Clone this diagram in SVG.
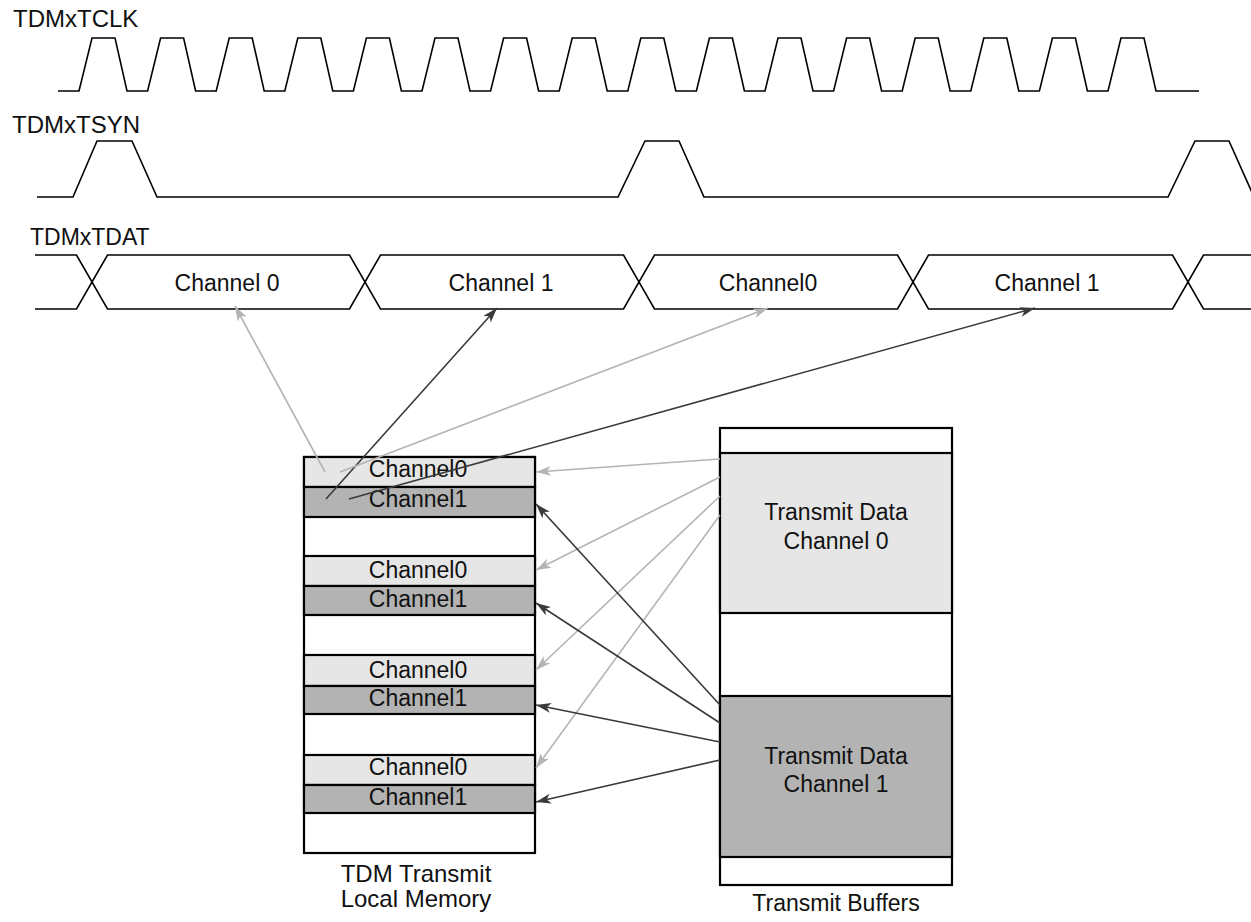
<svg xmlns="http://www.w3.org/2000/svg" width="1251" height="922" viewBox="0 0 1251 922">
<style>
text{font-family:"Liberation Sans",Arial,sans-serif;font-size:23px;fill:#111}
.mid{text-anchor:middle}
.big{font-size:24px}
.wave{fill:none;stroke:#000;stroke-width:1.6;stroke-linejoin:miter}
.box{stroke:#000;stroke-width:2.2}
.c0{fill:#e6e6e6}
.c1{fill:#b3b3b3}
.w{fill:#fff}
.lg{stroke:#b4b4b4;stroke-width:1.6;fill:none;marker-end:url(#ahL)}
.dk{stroke:#3a3a3a;stroke-width:1.6;fill:none;marker-end:url(#ahD)}
</style>
<defs>
<marker id="ahL" markerUnits="userSpaceOnUse" markerWidth="16" markerHeight="10" refX="15" refY="5" orient="auto"><path d="M0,0 L15,5 L0,10 L4,5 z" fill="#b4b4b4"/></marker>
<marker id="ahD" markerUnits="userSpaceOnUse" markerWidth="16" markerHeight="10" refX="15" refY="5" orient="auto"><path d="M0,0 L15,5 L0,10 L4,5 z" fill="#3a3a3a"/></marker>
</defs>
<rect width="1251" height="922" fill="#fff"/>

<g id="tclk">
<text x="13" y="27" class="big">TDMxTCLK</text>
<path class="wave" d="M58,91 L79,91 L92,38 L115,38 L127,91 L147.6,91 L160.6,38 L183.6,38 L195.6,91 L216.2,91 L229.2,38 L252.2,38 L264.2,91 L284.8,91 L297.8,38 L320.8,38 L332.8,91 L353.4,91 L366.4,38 L389.4,38 L401.4,91 L422,91 L435,38 L458,38 L470,91 L490.6,91 L503.6,38 L526.6,38 L538.6,91 L559.2,91 L572.2,38 L595.2,38 L607.2,91 L627.8,91 L640.8,38 L663.8,38 L675.8,91 L696.4,91 L709.4,38 L732.4,38 L744.4,91 L765,91 L778,38 L801,38 L813,91 L833.6,91 L846.6,38 L869.6,38 L881.6,91 L902.2,91 L915.2,38 L938.2,38 L950.2,91 L970.8,91 L983.8,38 L1006.8,38 L1018.8,91 L1039.4,91 L1052.4,38 L1075.4,38 L1087.4,91 L1108,91 L1121,38 L1144,38 L1156,91 L1199,91"/>
</g>

<g id="tsyn">
<text x="12" y="133" class="big">TDMxTSYN</text>
<path class="wave" d="M37,197 L73,197 L97,141 L132,141 L157,197 L618,197 L645,141 L679,141 L704,197 L1168,197 L1195,141 L1229,141 L1254,197"/>
</g>

<g id="tdat">
<text x="30" y="245">TDMxTDAT</text>
<path class="wave" d="M35,255 L76.5,255 L107.5,309 L349.5,309 L380.5,255 L623.5,255 L654.5,309 L897.5,309 L928.5,255 L1172.5,255 L1203.5,309 L1251,309"/>
<path class="wave" d="M35,309 L76.5,309 L107.5,255 L349.5,255 L380.5,309 L623.5,309 L654.5,255 L897.5,255 L928.5,309 L1172.5,309 L1203.5,255 L1251,255"/>
<text class="mid" x="227" y="291">Channel 0</text>
<text class="mid" x="501" y="291">Channel 1</text>
<text class="mid" x="768" y="291">Channel0</text>
<text class="mid" x="1047" y="291">Channel 1</text>
</g>

<g id="local-memory">
<rect class="box w" x="304" y="457" width="231" height="396"/>
<rect class="box c0" x="304" y="457" width="231" height="30"/>
<rect class="box c1" x="304" y="487" width="231" height="30"/>
<rect class="box c0" x="304" y="556" width="231" height="30"/>
<rect class="box c1" x="304" y="586" width="231" height="29"/>
<rect class="box c0" x="304" y="655" width="231" height="31"/>
<rect class="box c1" x="304" y="686" width="231" height="28"/>
<rect class="box c0" x="304" y="755" width="231" height="30"/>
<rect class="box c1" x="304" y="785" width="231" height="28"/>
<text class="mid" x="418" y="477">Channel0</text>
<text class="mid" x="418" y="507">Channel1</text>
<text class="mid" x="418" y="578">Channel0</text>
<text class="mid" x="418" y="607">Channel1</text>
<text class="mid" x="418" y="678">Channel0</text>
<text class="mid" x="418" y="706">Channel1</text>
<text class="mid" x="418" y="775">Channel0</text>
<text class="mid" x="418" y="805">Channel1</text>
<text class="mid big" x="416" y="882">TDM Transmit</text>
<text class="mid big" x="416" y="907">Local Memory</text>
</g>

<g id="transmit-buffers">
<rect class="box w" x="720" y="428" width="232" height="457"/>
<rect class="box c0" x="720" y="453" width="232" height="160"/>
<rect class="box c1" x="720" y="696" width="232" height="161"/>
<text class="mid" x="836" y="520">Transmit Data</text>
<text class="mid" x="836" y="549">Channel 0</text>
<text class="mid" x="836" y="764">Transmit Data</text>
<text class="mid" x="836" y="792">Channel 1</text>
<text class="mid" x="836" y="911">Transmit Buffers</text>
</g>

<g id="connectors">
<line class="lg" x1="325" y1="472" x2="235" y2="306"/>
<line class="dk" x1="326" y1="499" x2="497" y2="308"/>
<line class="lg" x1="340" y1="472" x2="768" y2="308"/>
<line class="dk" x1="349" y1="499" x2="1035" y2="308"/>
<line class="lg" x1="720" y1="459" x2="536" y2="472"/>
<line class="lg" x1="720" y1="477" x2="536" y2="570"/>
<line class="lg" x1="720" y1="496" x2="536" y2="670"/>
<line class="lg" x1="720" y1="515" x2="536" y2="768"/>
<line class="dk" x1="720" y1="705" x2="536" y2="504"/>
<line class="dk" x1="720" y1="723" x2="536" y2="603"/>
<line class="dk" x1="720" y1="742" x2="536" y2="705"/>
<line class="dk" x1="720" y1="760" x2="536" y2="802"/>
</g>
</svg>
